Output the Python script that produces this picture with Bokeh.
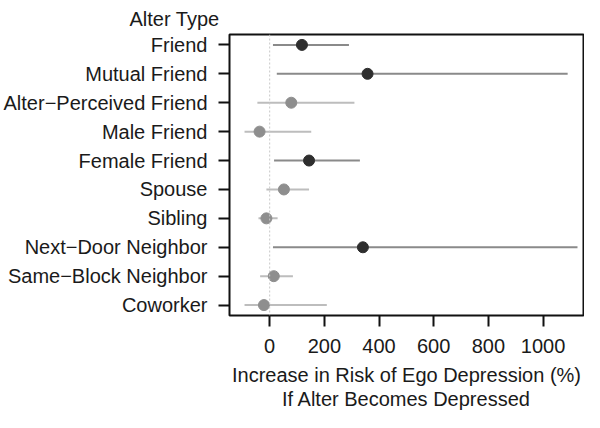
from bokeh.plotting import figure
from bokeh.models import ColumnDataSource, Range1d, FixedTicker, Span, Title
from bokeh.embed import file_html
from bokeh.resources import INLINE

alter_types = ["Friend", "Mutual Friend", "Alter\u2212Perceived Friend", "Male Friend",
               "Female Friend", "Spouse", "Sibling", "Next\u2212Door Neighbor",
               "Same\u2212Block Neighbor", "Coworker"]
estimate = [118, 358, 79, -37, 144, 52, -12, 341, 15, -21]
lower = [12, 26, -45, -92, 16, -12, -41, 12, -35, -92]
upper = [290, 1090, 310, 152, 330, 144, 29, 1126, 85, 209]
significant = [True, True, False, False, True, False, False, True, False, False]
x_ticks = [0, 200, 400, 600, 800, 1000]

n = len(alter_types)
ypos = [n - i for i in range(n)]

FONT = "Liberation Sans"
FS = "20px"
dot_col = ["#2e2e2e" if s else "#8e8e8e" for s in significant]
line_col = ["#8a8a8a" if s else "#bdbdbd" for s in significant]

src = ColumnDataSource(dict(y=ypos, est=estimate, lo=lower, hi=upper,
                            dc=dot_col, lc=line_col))

p = figure(width=584, height=412, output_backend="svg", toolbar_location=None,
           x_range=Range1d(-147, 1148), y_range=Range1d(0.64, n + 0.36),
           min_border_left=0, min_border_right=1, min_border_top=0, min_border_bottom=0)

p.xgrid.visible = False
p.ygrid.visible = False
p.outline_line_color = "#111111"
p.outline_line_width = 2
p.outline_line_alpha = 1
p.background_fill_color = "white"
p.border_fill_color = "white"

p.add_layout(Title(text="Alter Type", align="left", offset=-100, text_font=FONT,
                   text_font_size=FS, text_font_style="normal", text_color="#1a1a1a",
                   standoff=10), "above")

p.add_layout(Span(location=0, dimension="height", line_color="#c8c8c8",
                  line_dash="2 2", line_width=1))

p.segment(x0="lo", y0="y", x1="hi", y1="y", source=src, line_color="lc", line_width=2)
p.scatter(x="est", y="y", source=src, size=11, fill_color="dc", line_color="dc")

# x axis
xa = p.xaxis[0]
xa.ticker = FixedTicker(ticks=x_ticks)
xa.minor_tick_line_color = None
xa.axis_line_color = None
xa.major_tick_out = 11
xa.major_tick_in = 0
xa.major_tick_line_width = 2
xa.major_tick_line_color = "#111111"
xa.major_label_standoff = 12
xa.major_label_text_font = FONT
xa.major_label_text_font_size = FS
xa.major_label_text_color = "#1a1a1a"
xa.axis_label = "Increase in Risk of Ego Depression (%)\nIf Alter Becomes Depressed"
xa.axis_label_text_font = FONT
xa.axis_label_text_font_size = FS
xa.axis_label_text_font_style = "normal"
xa.axis_label_text_color = "#1a1a1a"
xa.axis_label_standoff = 8
xa.axis_label_text_line_height = 1.1

# y axis
ya = p.yaxis[0]
ya.ticker = FixedTicker(ticks=ypos)
ya.major_label_overrides = {y: name for y, name in zip(ypos, alter_types)}
ya.minor_tick_line_color = None
ya.axis_line_color = None
ya.major_tick_out = 11
ya.major_tick_in = 0
ya.major_tick_line_width = 2
ya.major_tick_line_color = "#111111"
ya.major_label_standoff = 11
ya.major_label_text_font = FONT
ya.major_label_text_font_size = FS
ya.major_label_text_color = "#1a1a1a"

open("out.html", "w").write(file_html(p, INLINE))
